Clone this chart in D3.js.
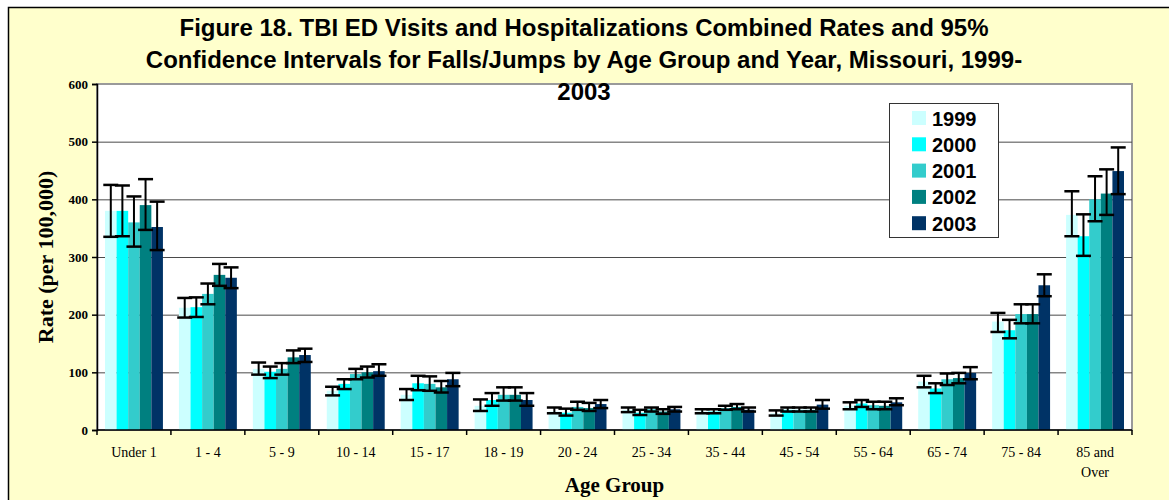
<!DOCTYPE html>
<html>
<head>
<meta charset="utf-8">
<script src="https://cdn.jsdelivr.net/npm/d3@7"></script>
<style>
    body { margin: 0; background: #fff; }
    .title { font-family: "Liberation Sans", Arial, sans-serif; font-weight: bold; font-size: 24px; }
    .legend text { font-family: "Liberation Sans", Arial, sans-serif; font-weight: bold; font-size: 20px; }
    .y-axis text { font-family: "Liberation Serif", "Times New Roman", serif; font-weight: bold; font-size: 13px; }
    .x-axis text { font-family: "Liberation Serif", "Times New Roman", serif; font-size: 14px; }
    .axis-title { font-family: "Liberation Serif", "Times New Roman", serif; font-weight: bold; font-size: 21px; }
    .axis-title.y-title { font-size: 22px; }
</style>
</head>
<body>
<div id="chart"></div>
<script>

// Age groups and years
const ageGroups = ["Under 1", "1 - 4", "5 - 9", "10 - 14", "15 - 17", "18 - 19", "20 - 24",
    "25 - 34", "35 - 44", "45 - 54", "55 - 64", "65 - 74", "75 - 84", "85 and Over"];
const years = ["1999", "2000", "2001", "2002", "2003"];
const yearColors = ["#CCFFFF", "#00FFFF", "#33CCCC", "#008080", "#003366"];
const yTicks = [0, 100, 200, 300, 400, 500, 600];

// Rates (per 100,000), one array per year, in age group order
const rate1999 = [380, 212, 106, 68, 61, 42, 32, 35, 32, 29, 42, 84, 188, 373];
const rate2000 = [380, 213, 101, 80, 81, 52, 30, 30, 32, 35, 46, 72, 173, 336];
const rate2001 = [360, 236, 106, 97, 80, 61, 40, 36, 38, 35, 43, 88, 201, 400];
const rate2002 = [390, 269, 126, 100, 74, 61, 38, 32, 40, 35, 42, 90, 201, 410];
const rate2003 = [352, 264, 130, 102, 88, 52, 45, 36, 35, 44, 48, 99, 251, 449];

// 95% confidence interval bounds
const low1999 = [335, 195, 96, 60, 52, 33, 29, 31, 29, 25, 36, 74, 170, 336];
const low2000 = [336, 196, 90, 71, 69, 42, 25, 26, 29, 32, 40, 64, 159, 302];
const low2001 = [318, 218, 96, 88, 68, 51, 35, 32, 35, 32, 36, 78, 185, 362];
const low2002 = [347, 250, 116, 91, 65, 51, 33, 28, 36, 32, 36, 81, 185, 373];
const low2003 = [312, 246, 118, 94, 76, 42, 38, 32, 32, 37, 43, 88, 232, 409];

const high1999 = [425, 229, 117, 75, 71, 53, 39, 39, 36, 34, 48, 94, 203, 414];
const high2000 = [424, 230, 110, 88, 94, 64, 37, 35, 36, 39, 52, 81, 191, 374];
const high2001 = [405, 254, 116, 106, 93, 74, 49, 39, 42, 39, 49, 98, 218, 440];
const high2002 = [435, 288, 138, 110, 85, 74, 47, 36, 45, 39, 49, 99, 218, 452];
const high2003 = [396, 282, 141, 114, 99, 64, 52, 40, 39, 52, 55, 109, 270, 490];

const rates = [rate1999, rate2000, rate2001, rate2002, rate2003];
const lows = [low1999, low2000, low2001, low2002, low2003];
const highs = [high1999, high2000, high2001, high2002, high2003];

class GroupedBarChart {

    constructor(_parentElement) {
        this.parentElement = _parentElement;
        this.displayData = [];
        this.initVis();
    }

    initVis() {
        let vis = this;

        vis.totalWidth = 1169;
        vis.totalHeight = 500;
        vis.margin = {top: 84, right: 37, bottom: 70, left: 97};
        vis.width = vis.totalWidth - vis.margin.left - vis.margin.right;
        vis.height = vis.totalHeight - vis.margin.top - vis.margin.bottom;

        vis.root = d3.select("#" + vis.parentElement).append("svg")
            .attr("width", vis.totalWidth)
            .attr("height", vis.totalHeight);

        // Outer frame
        vis.root.append("rect")
            .attr("x", 8.5)
            .attr("y", 7.5)
            .attr("width", 1200)
            .attr("height", 600)
            .attr("fill", "#FFFFCC")
            .attr("stroke", "#000")
            .attr("stroke-width", 1.5);

        vis.svg = vis.root.append("g")
            .attr("transform", "translate(" + vis.margin.left + "," + vis.margin.top + ")");

        // Plot area
        vis.svg.append("rect")
            .attr("width", vis.width)
            .attr("height", vis.height)
            .attr("fill", "#fff")
            .attr("stroke", "#9a9a9a")
            .attr("stroke-width", 2);

        // Scales
        vis.x0 = d3.scaleBand().domain(ageGroups).range([0, vis.width]);
        vis.x1 = d3.scaleBand().domain(years).range([8, vis.x0.bandwidth() - 8]);
        vis.y = d3.scaleLinear().domain([0, 600]).range([vis.height, 0]);
        vis.color = d3.scaleOrdinal().domain(years).range(yearColors);

        // Gridlines
        vis.svg.append("g")
            .selectAll("line")
            .data(yTicks.filter(d => d > 0 && d < 600))
            .enter().append("line")
            .attr("x1", 0)
            .attr("x2", vis.width)
            .attr("y1", d => vis.y(d) + 0.5)
            .attr("y2", d => vis.y(d) + 0.5)
            .attr("stroke", "#4a4a4a")
            .attr("stroke-width", 1);

        vis.barGroup = vis.svg.append("g").attr("class", "bars");
        vis.errGroup = vis.svg.append("g").attr("class", "errors");

        // Axes
        vis.yAxis = d3.axisLeft(vis.y).tickValues(yTicks).tickSize(5).tickPadding(4);
        vis.yAxisGroup = vis.svg.append("g")
            .attr("class", "axis y-axis")
            .call(vis.yAxis);
        vis.yAxisGroup.select(".domain").attr("stroke", "#000").attr("stroke-width", 1.5);
        vis.yAxisGroup.selectAll(".tick line").attr("stroke", "#000").attr("stroke-width", 1.5);

        vis.xAxisGroup = vis.svg.append("g")
            .attr("class", "axis x-axis")
            .attr("transform", "translate(0," + vis.height + ")");
        vis.xAxisGroup.append("line")
            .attr("x1", 0).attr("x2", vis.width)
            .attr("stroke", "#000").attr("stroke-width", 1.5);
        vis.xAxisGroup.selectAll(".boundary")
            .data(ageGroups.concat(["end"]))
            .enter().append("line")
            .attr("class", "boundary")
            .attr("x1", (d, i) => i * vis.x0.bandwidth())
            .attr("x2", (d, i) => i * vis.x0.bandwidth())
            .attr("y1", 0).attr("y2", 5)
            .attr("stroke", "#000").attr("stroke-width", 1.5);
        let labels = vis.xAxisGroup.selectAll(".age-label")
            .data(ageGroups)
            .enter().append("text")
            .attr("class", "age-label")
            .attr("text-anchor", "middle")
            .attr("fill", "#000")
            .attr("transform", d => "translate(" + (vis.x0(d) + vis.x0.bandwidth() / 2) + ",27)");
        labels.each(function (d) {
            let parts = d === "85 and Over" ? ["85 and", "Over"] : [d];
            d3.select(this).selectAll("tspan")
                .data(parts)
                .enter().append("tspan")
                .attr("x", 0)
                .attr("dy", (p, i) => i === 0 ? 0 : 20)
                .text(p => p);
        });

        // Axis titles
        vis.svg.append("text")
            .attr("class", "axis-title")
            .attr("text-anchor", "middle")
            .attr("x", vis.width / 2)
            .attr("y", vis.height + 62)
            .text("Age Group");

        vis.svg.append("text")
            .attr("class", "axis-title y-title")
            .attr("text-anchor", "middle")
            .attr("transform", "translate(-44," + (vis.height / 2) + ") rotate(-90)")
            .text("Rate (per 100,000)");

        // Title
        let titleLines = [
            "Figure 18. TBI ED Visits and Hospitalizations Combined Rates and 95%",
            "Confidence Intervals for Falls/Jumps by Age Group and Year, Missouri, 1999-",
            "2003"
        ];
        vis.root.append("text")
            .attr("class", "title")
            .attr("text-anchor", "middle")
            .selectAll("tspan")
            .data(titleLines)
            .enter().append("tspan")
            .attr("x", 584)
            .attr("y", (d, i) => 36 + i * 32)
            .text(d => d);

        // Legend
        vis.legend = vis.root.append("g")
            .attr("class", "legend")
            .attr("transform", "translate(889.5,103.5)");
        vis.legend.append("rect")
            .attr("width", 109)
            .attr("height", 134)
            .attr("fill", "#fff")
            .attr("stroke", "#333")
            .attr("stroke-width", 1);
        let items = vis.legend.selectAll(".item")
            .data(years)
            .enter().append("g")
            .attr("class", "item")
            .attr("transform", (d, i) => "translate(0," + (15 + i * 26.3) + ")");
        items.append("rect")
            .attr("x", 22.5)
            .attr("y", -7.5)
            .attr("width", 14)
            .attr("height", 14)
            .attr("fill", d => vis.color(d));
        items.append("text")
            .attr("x", 42.5)
            .attr("y", 7)
            .text(d => d);

        vis.wrangleData();
    }

    wrangleData() {
        let vis = this;

        vis.displayData = [];
        ageGroups.forEach((g, gi) => {
            years.forEach((yr, yi) => {
                vis.displayData.push({
                    group: g,
                    year: yr,
                    rate: rates[yi][gi],
                    low: lows[yi][gi],
                    high: highs[yi][gi]
                });
            });
        });

        vis.updateVis();
    }

    updateVis() {
        let vis = this;

        vis.barGroup.selectAll("rect")
            .data(vis.displayData)
            .enter().append("rect")
            .attr("x", d => vis.x0(d.group) + vis.x1(d.year))
            .attr("y", d => vis.y(d.rate))
            .attr("width", vis.x1.bandwidth())
            .attr("height", d => vis.y(0) - vis.y(d.rate))
            .attr("fill", d => vis.color(d.year));

        let cx = d => vis.x0(d.group) + vis.x1(d.year) + vis.x1.bandwidth() / 2;
        let capW = 7.5;

        let err = vis.errGroup.selectAll("g")
            .data(vis.displayData)
            .enter().append("g")
            .attr("stroke", "#000");
        err.append("line")
            .attr("x1", cx).attr("x2", cx)
            .attr("y1", d => vis.y(d.high))
            .attr("y2", d => vis.y(d.low))
            .attr("stroke-width", 2);
        err.append("line")
            .attr("x1", d => cx(d) - capW).attr("x2", d => cx(d) + capW)
            .attr("y1", d => vis.y(d.high)).attr("y2", d => vis.y(d.high))
            .attr("stroke-width", 2.5);
        err.append("line")
            .attr("x1", d => cx(d) - capW).attr("x2", d => cx(d) + capW)
            .attr("y1", d => vis.y(d.low)).attr("y2", d => vis.y(d.low))
            .attr("stroke-width", 2.5);
    }
}

new GroupedBarChart("chart");

</script>
</body>
</html>
